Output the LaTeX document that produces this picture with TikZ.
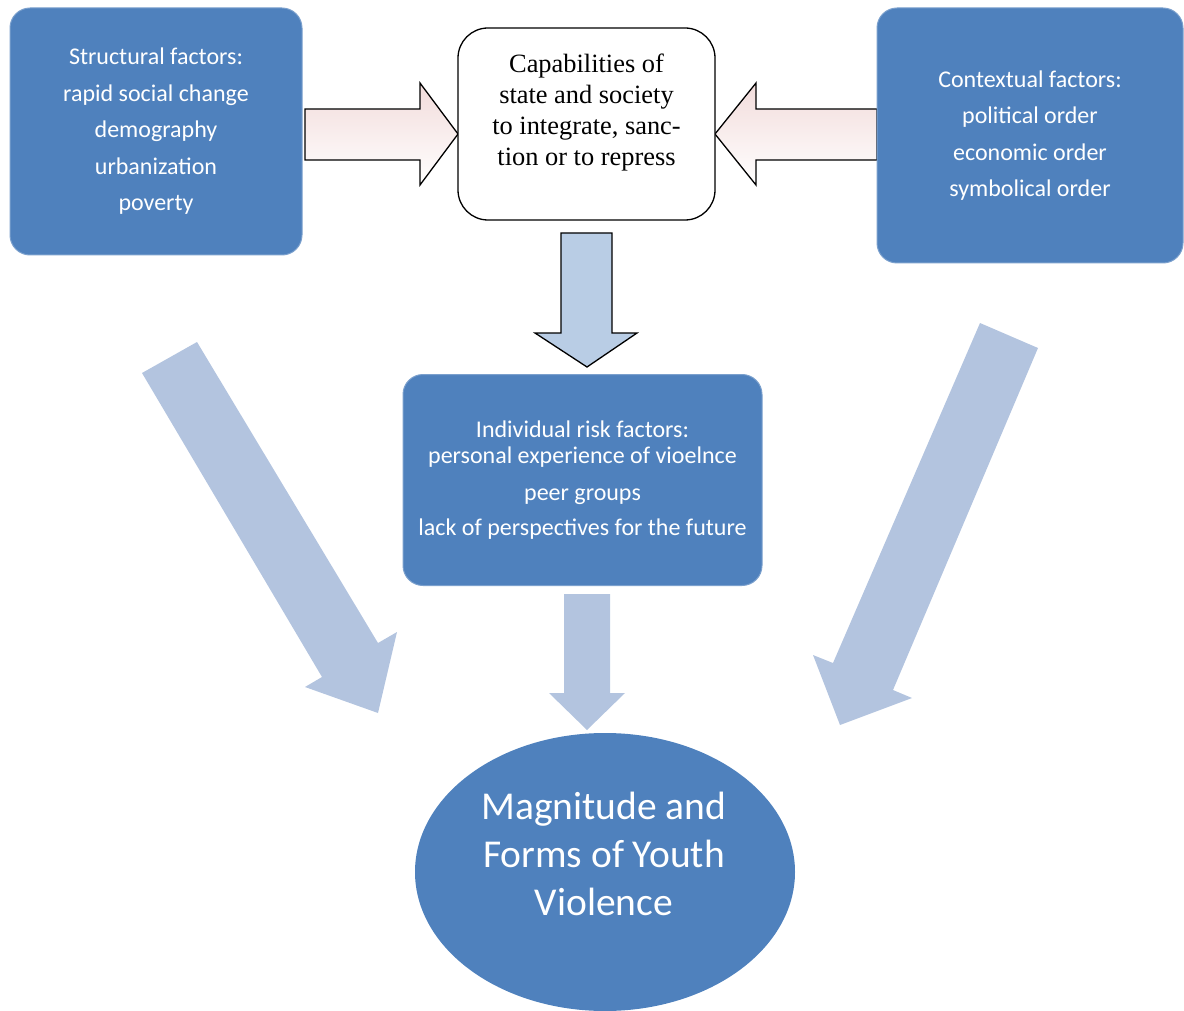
\documentclass[tikz,border=0pt]{standalone}
\usepackage{fontspec}
\setmainfont{Liberation Serif}
\newfontfamily\calibfont{Carlito}
\usepackage{tikz}
\usetikzlibrary{shapes.geometric}

\definecolor{boxblue}{HTML}{4F81BD}
\definecolor{arrowblue}{HTML}{B9CDE5}
\definecolor{paleblue}{HTML}{B3C4DF}
\definecolor{pinkish}{HTML}{F2DCDB}

\tikzset{
  factorbox/.style={rounded corners=20pt, fill=boxblue, draw=boxblue!75!white, line width=1pt,
    text=white, align=center, inner sep=0pt},
  boxfont/.style={font=\calibfont\fontsize{24}{36.5}\selectfont},
  sidearrow/.style={draw=black, line width=1.3pt, top color=pinkish, bottom color=white},
  downarrow/.style={draw=black, line width=1.3pt, fill=arrowblue},
  palearrow/.style={fill=paleblue},
}

\begin{document}
\begin{tikzpicture}[x=1pt,y=-1pt]
            \useasboundingbox (0,0) rectangle (1184,1011);

            % Flechas grandes diagonales
            \fill[palearrow] (142,373) -- (197,342) -- (378,643) -- (397,632) -- (378,713) -- (305,687) -- (322,677) -- cycle;
            \fill[palearrow] (980,323) -- (1038,348) -- (893,690) -- (912,698) -- (840,725) -- (813,655) -- (833,663) -- cycle;

            % Flechas laterales hacia el cuadro central
            \path[sidearrow] (305,109) -- (420,109) -- (420,83) -- (458,134) -- (420,185) -- (420,160) -- (305,160) -- cycle;
            \path[sidearrow] (877,109) -- (756,109) -- (756,83) -- (715,134) -- (756,185) -- (756,160) -- (877,160) -- cycle;

            % Cuadros de factores
            \node[factorbox, boxfont, minimum width=292pt, minimum height=247pt] (structural) at (156,131.5)
              {Structural factors:\\rapid social change\\demography\\urbanization\\poverty};
            \node[factorbox, boxfont, minimum width=306pt, minimum height=255pt] (contextual) at (1030,135.5)
              {Contextual factors:\\political order\\economic order\\symbolical order};

            % Cuadro central
            \node[draw=black, line width=1.3pt, rounded corners=30pt, fill=white,
              minimum width=257pt, minimum height=192pt] (capab) at (586.5,124) {};
            \node[align=center, font=\fontsize{26.4}{31}\selectfont] (capabtext) at (586.5,112.5)
              {Capabilities of\\state and society\\to integrate, sanc-\\tion or to repress};

            % Flecha hacia abajo
            \path[downarrow] (561,233) -- (612,233) -- (612,333) -- (637,333) -- (587,367) -- (535,333) -- (561,333) -- cycle;

            % Factores individuales
            \node[factorbox, font=\calibfont\fontsize{24}{26}\selectfont, minimum width=359pt, minimum height=211pt] (individual) at (582.5,480)
              {Individual risk factors:\\personal experience of vioelnce\\[11pt]peer groups\\[9pt]lack of perspectives for the future};

            % Flecha hacia la elipse
            \fill[palearrow] (564,594) -- (610,594) -- (610,693) -- (625,693) -- (587,730) -- (549,693) -- (564,693) -- cycle;

            % Elipse final
            \node[ellipse, fill=boxblue, minimum width=380pt, minimum height=278pt] (youth) at (605,872) {};
            \node[text=white, align=center, font=\calibfont\fontsize{39.5}{48}\selectfont] (youthtext) at (604,853.5)
              {Magnitude and\\Forms of Youth\\Violence};
\end{tikzpicture}
\end{document}
